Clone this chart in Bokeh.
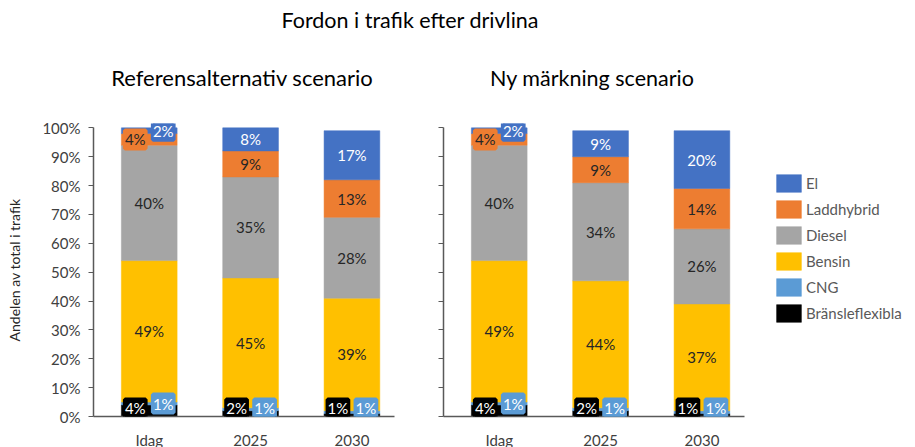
from bokeh.plotting import figure
from bokeh.models import (ColumnDataSource, LabelSet, Label, Legend, LegendItem, Div,
                          SingleIntervalTicker, PrintfTickFormatter, Range1d, FixedTicker,
                          CustomJSTickFormatter)
from bokeh.core.properties import value
from bokeh.layouts import column, row
from bokeh.embed import file_html
from bokeh.resources import INLINE

# ---------------- data ----------------
categories = ["Idag", "2025", "2030"]
series = ["Bränsleflexibla", "CNG", "Bensin", "Diesel", "Laddhybrid", "El"]
colors = ["#000000", "#5B9BD5", "#FFC000", "#A5A5A5", "#ED7D31", "#4472C4"]

ref_bransleflexibla = [4, 2, 1]
ref_cng = [1, 1, 1]
ref_bensin = [49, 45, 39]
ref_diesel = [40, 35, 28]
ref_laddhybrid = [4, 9, 13]
ref_el = [2, 8, 17]

ny_bransleflexibla = [4, 2, 1]
ny_cng = [1, 1, 1]
ny_bensin = [49, 44, 37]
ny_diesel = [40, 34, 26]
ny_laddhybrid = [4, 9, 14]
ny_el = [2, 9, 20]

main_title = "Fordon i trafik efter drivlina"
panel_titles = ["Referensalternativ scenario", "Ny märkning scenario"]
y_label = "Andelen av total i trafik"

FONT = "Lato"
AXIS_GRAY = "#595959"
DARK = "#262626"

xpos = list(range(len(categories)))
PX_PER_UNIT = 2.883


def make_panel(data, left_border, right_border, show_ylabels, show_legend):
    keys = [f"s{i}" for i in range(len(series))]
    src = ColumnDataSource(dict(x=xpos, **{k: v for k, v in zip(keys, data)}))
    p = figure(x_range=Range1d(-0.55, 2.42), y_range=Range1d(0, 101.5),
               frame_width=301, frame_height=293,
               output_backend="svg", toolbar_location=None,
               min_border_left=left_border, min_border_right=right_border,
               min_border_top=25, min_border_bottom=0)
    rs = p.vbar_stack(keys, x="x", width=0.55, color=colors, line_width=0.5, source=src)

    # labels
    centered = {}
    for i, (name, vals) in enumerate(zip(series, data)):
        for j, v in enumerate(vals):
            bottom = sum(data[k][j] for k in range(i))
            mid = bottom + v / 2.0
            if v >= 5:
                tc = "white" if name == "El" else DARK
                g = centered.setdefault(tc, dict(x=[], y=[], t=[]))
                g["x"].append(xpos[j])
                g["y"].append(mid)
                g["t"].append(f"{v}%")
            else:
                off = -14 if name in ("Bränsleflexibla", "Laddhybrid") else 14
                tc = DARK if name == "Laddhybrid" else "white"
                yoff = max(0.0, 8 - mid * PX_PER_UNIT)
                p.add_layout(Label(x=xpos[j], y=mid, text=f"{v}%", x_offset=off,
                                   y_offset=yoff,
                                   text_align="center", text_baseline="middle",
                                   text_font=FONT, text_font_size="15px", text_color=tc,
                                   background_fill_color=colors[i],
                                   border_line_color=colors[i], border_line_width=4))
    for tc, g in centered.items():
        ls = LabelSet(x="x", y="y", text="t", source=ColumnDataSource(g),
                      text_align="center", text_baseline="middle",
                      text_font=value(FONT), text_font_size=value("15px"),
                      text_color=tc)
        p.add_layout(ls)

    p.xgrid.grid_line_color = None
    p.ygrid.grid_line_color = None
    p.outline_line_color = None

    p.xaxis.ticker = FixedTicker(ticks=xpos)
    p.xaxis.major_label_overrides = {i: c for i, c in zip(xpos, categories)}
    p.xaxis.major_tick_line_color = None
    p.xaxis.minor_tick_line_color = None
    p.xaxis.axis_line_color = AXIS_GRAY
    p.xaxis.axis_line_width = 1.5
    p.xaxis.major_label_standoff = 8
    p.xaxis.major_label_text_font = FONT
    p.xaxis.major_label_text_font_size = "15px"
    p.xaxis.major_label_text_color = "#404040"

    p.yaxis.bounds = (0, 100)
    p.yaxis.ticker = SingleIntervalTicker(interval=10)
    p.yaxis.axis_line_color = AXIS_GRAY
    p.yaxis.axis_line_width = 1.5
    p.yaxis.major_tick_line_color = AXIS_GRAY
    p.yaxis.major_tick_out = 5
    p.yaxis.major_tick_in = 0
    p.yaxis.minor_tick_line_color = None
    p.yaxis.major_label_text_font = FONT
    p.yaxis.major_label_text_color = "#404040"
    if show_ylabels:
        p.yaxis.formatter = PrintfTickFormatter(format="%d%%")
        p.yaxis.major_label_text_font_size = "15px"
        p.yaxis.major_label_standoff = 8
        p.yaxis.axis_label = y_label
        p.yaxis.axis_label_text_font = FONT
        p.yaxis.axis_label_text_font_size = "14px"
        p.yaxis.axis_label_text_font_style = "normal"
        p.yaxis.axis_label_text_color = DARK
        p.yaxis.axis_label_standoff = 16
    else:
        p.yaxis.formatter = CustomJSTickFormatter(code="return ''")
        p.yaxis.major_label_standoff = 0

    if show_legend:
        items = [LegendItem(label=s, renderers=[r]) for s, r in reversed(list(zip(series, rs)))]
        legend = Legend(items=items, location=(29, 92), glyph_width=31, glyph_height=22,
                        label_height=22, spacing=4, padding=0, margin=0,
                        border_line_color=None, background_fill_alpha=0,
                        label_text_font=FONT, label_text_font_size="15px",
                        label_text_color=AXIS_GRAY, label_standoff=2)
        p.add_layout(legend, "right")
    return p


ref_data = [ref_bransleflexibla, ref_cng, ref_bensin, ref_diesel, ref_laddhybrid, ref_el]
ny_data = [ny_bransleflexibla, ny_cng, ny_bensin, ny_diesel, ny_laddhybrid, ny_el]

p1 = make_panel(ref_data, 93, 20, True, False)
p2 = make_panel(ny_data, 29, 147, False, True)

text_style = {"font-family": FONT, "color": "#000000"}
head = Div(text=('<div style="width:400px;margin-left:205px;text-align:center;'
                 'line-height:24px">' + main_title + '</div>'),
           width=895, height=31, styles=dict(text_style, **{"font-size": "21.5px"}))
sub1 = Div(text=('<div style="width:320px;margin-left:77px;text-align:center;'
                 'padding-top:19px;line-height:26px">' + panel_titles[0] + '</div>'),
           width=412, height=47, styles=dict(text_style, **{"font-size": "22px"}))
sub2 = Div(text=('<div style="width:320px;margin-left:5px;text-align:center;'
                 'padding-top:19px;line-height:26px">' + panel_titles[1] + '</div>'),
           width=480, height=47, styles=dict(text_style, **{"font-size": "21.5px"}))

layout = column(head, row(sub1, sub2, spacing=0), row(p1, p2, spacing=0), spacing=0)

open("out.html", "w").write(file_html(layout, INLINE))
